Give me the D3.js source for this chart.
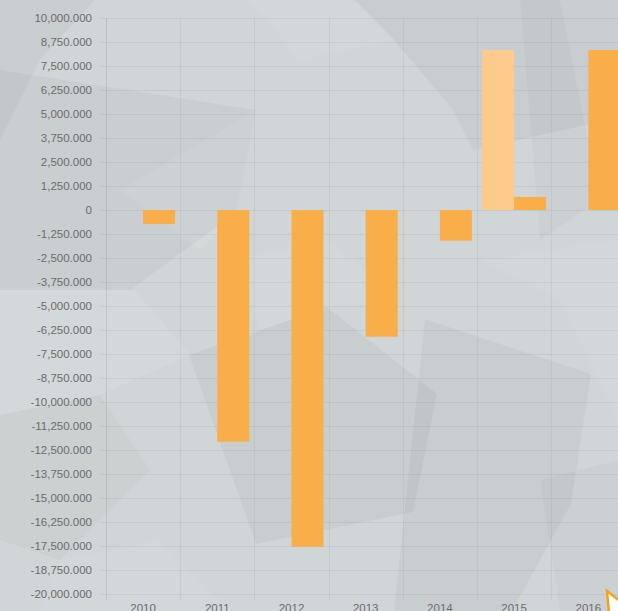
<!DOCTYPE html>
<html>
<head>
<script src="https://d3js.org/d3.v7.min.js" charset="utf-8"></script>
<style>
body { margin: 0; background: #cfd4d6; overflow: hidden; }
svg { display: block; font-family: "Liberation Sans", Arial, sans-serif; }
</style>
</head>
<body>
<script>
var w = 618;
var h = 611;

// chart data
var years = ["2010", "2011", "2012", "2013", "2014", "2015", "2016"];
var seriesNames = ["plan", "actual"];
var planValues = [0, 0, 0, 0, 0, 8330, 0];
var actualValues = [-730, -12070, -17540, -6600, -1600, 680, 8330];
var yTicks = d3.range(-20000, 10001, 1250);

var colors = { plan: "#fecb8c", actual: "#f9ae4a" };

// background facets, just decoration
var facets = [
    { pts: [[0,0],[95,0],[40,60],[0,140]], fill: "#000", op: 0.03 },
    { pts: [[0,70],[256,110],[236,213],[130,290],[0,290]], fill: "#000", op: 0.03 },
    { pts: [[120,190],[256,110],[236,213],[200,250]], fill: "#fff", op: 0.07 },
    { pts: [[250,0],[355,0],[394,40],[300,60]], fill: "#fff", op: 0.06 },
    { pts: [[355,0],[618,0],[618,118],[473,150],[453,110],[394,40]], fill: "#000", op: 0.035 },
    { pts: [[520,0],[560,0],[600,200],[540,240]], fill: "#000", op: 0.02 },
    { pts: [[0,290],[135,290],[190,355],[100,395],[0,415]], fill: "#fff", op: 0.08 },
    { pts: [[189,355],[327,307],[437,394],[413,512],[256,544]], fill: "#000", op: 0.035 },
    { pts: [[425,319],[591,374],[571,504],[512,611],[394,611]], fill: "#000", op: 0.035 },
    { pts: [[230,260],[330,240],[400,300],[327,307],[260,330]], fill: "#fff", op: 0.05 },
    { pts: [[0,415],[100,395],[150,470],[60,560],[0,540]], fill: "#000", op: 0.025 },
    { pts: [[480,260],[618,240],[618,420],[560,300]], fill: "#fff", op: 0.06 },
    { pts: [[60,560],[160,540],[230,611],[40,611]], fill: "#fff", op: 0.05 },
    { pts: [[540,480],[618,460],[618,611],[560,611]], fill: "#000", op: 0.02 }
];

var svg = d3.select("body")
    .append("svg")
    .attr("width", w)
    .attr("height", h);

svg.append("rect")
    .attr("width", w)
    .attr("height", h)
    .attr("fill", "#d0d5d7");

svg.selectAll("polygon.facet")
    .data(facets)
    .enter()
    .append("polygon")
    .attr("class", "facet")
    .attr("points", function(d) { return d.pts.join(" "); })
    .attr("fill", function(d) { return d.fill; })
    .attr("fill-opacity", function(d) { return d.op; });

var plotLeft = 106, plotTop = 18, plotBottom = 594;
var step = 74.2;

var x = d3.scaleBand()
    .domain(years)
    .range([plotLeft, plotLeft + step * years.length])
    .padding(0);

var x1 = d3.scaleBand()
    .domain(seriesNames)
    .range([x.bandwidth() / 2 - 32, x.bandwidth() / 2 + 32]);

var y = d3.scaleLinear()
    .domain([-20000, 10000])
    .range([plotBottom, plotTop]);

var fmt = d3.formatLocale({
    decimal: ".", thousands: ",", grouping: [3], currency: ["$", ""], minus: "-"
}).format(",.3f");

// grid
svg.append("g")
    .selectAll("line")
    .data(yTicks)
    .enter()
    .append("line")
    .attr("x1", 100)
    .attr("x2", w)
    .attr("y1", function(d) { return Math.round(y(d)) + 0.5; })
    .attr("y2", function(d) { return Math.round(y(d)) + 0.5; })
    .attr("stroke", "#000")
    .attr("stroke-opacity", 0.05);

svg.append("g")
    .selectAll("line")
    .data(years.slice(1))
    .enter()
    .append("line")
    .attr("x1", function(d) { return Math.round(x(d)) + 0.5; })
    .attr("x2", function(d) { return Math.round(x(d)) + 0.5; })
    .attr("y1", plotTop)
    .attr("y2", plotBottom + 6)
    .attr("stroke", "#000")
    .attr("stroke-opacity", 0.045);

svg.append("line")
    .attr("x1", plotLeft + 0.5)
    .attr("x2", plotLeft + 0.5)
    .attr("y1", plotTop)
    .attr("y2", plotBottom + 6)
    .attr("stroke", "#000")
    .attr("stroke-opacity", 0.09);

// y axis labels
var yAxis = d3.axisLeft(y)
    .tickValues(yTicks)
    .tickSize(0)
    .tickPadding(14)
    .tickFormat(function(d) { return d === 0 ? "0" : fmt(d); });

var gy = svg.append("g")
    .attr("transform", "translate(" + plotLeft + ",0)")
    .call(yAxis);
gy.select(".domain").remove();
gy.selectAll("text")
    .attr("fill", "#6a6d6f")
    .style("font-size", "11.5px")
    .style("font-family", "'Liberation Sans', Arial, sans-serif");

// x axis labels
var xAxis = d3.axisBottom(x).tickSize(0).tickPadding(9);
var gx = svg.append("g")
    .attr("transform", "translate(0," + (plotBottom + 1) + ")")
    .call(xAxis);
gx.select(".domain").remove();
gx.selectAll("text")
    .attr("fill", "#6a6d6f")
    .style("font-size", "11.5px")
    .style("font-family", "'Liberation Sans', Arial, sans-serif");

// bars
var rows = years.map(function(yr, i) {
    return { year: yr, plan: planValues[i], actual: actualValues[i] };
});

var groups = svg.selectAll("g.year")
    .data(rows)
    .enter()
    .append("g")
    .attr("class", "year")
    .attr("transform", function(d) { return "translate(" + x(d.year) + ",0)"; });

groups.selectAll("rect")
    .data(function(d) {
        return seriesNames.map(function(s) { return { key: s, value: d[s] }; });
    })
    .enter()
    .append("rect")
    .attr("x", function(d) { return x1(d.key); })
    .attr("width", x1.bandwidth())
    .attr("y", function(d) { return Math.min(y(0), y(d.value)); })
    .attr("height", function(d) { return Math.abs(y(d.value) - y(0)); })
    .attr("fill", function(d) { return colors[d.key]; });

// corner marker at bottom right
svg.append("path")
    .attr("d", "M607,591 L620,601 L620,613 L609,613 Z")
    .attr("fill", "#fff")
    .attr("stroke", "#f7a11a")
    .attr("stroke-width", 2.5);
</script>
</body>
</html>
